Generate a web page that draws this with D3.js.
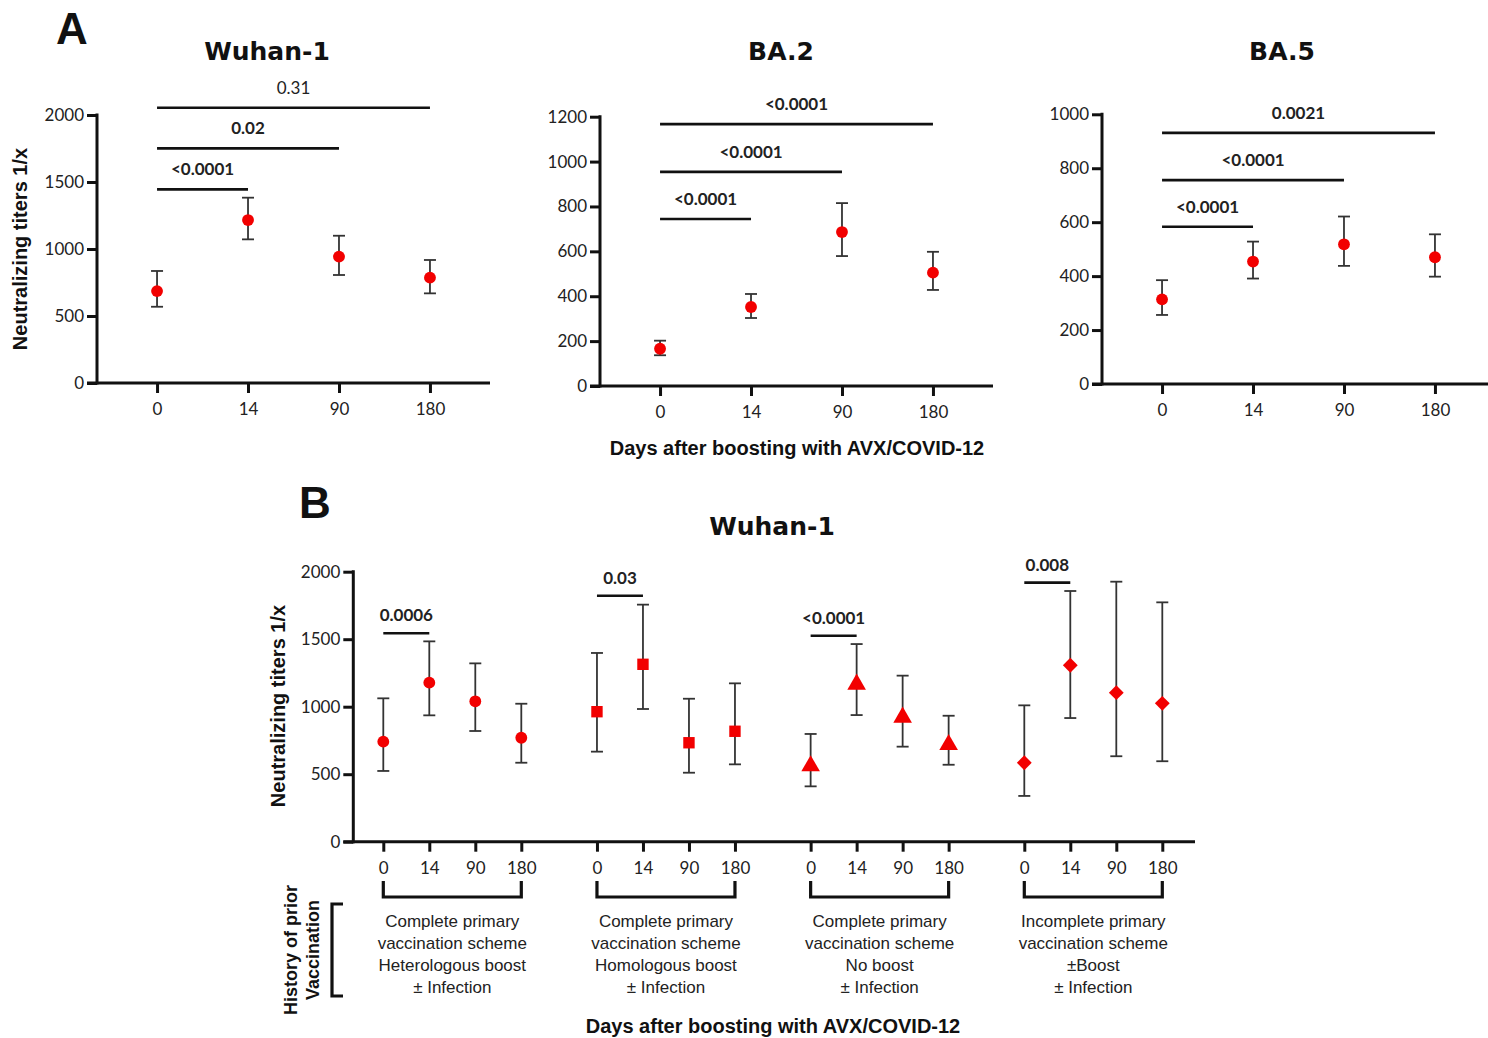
<!DOCTYPE html>
<html>
<head>
<meta charset="utf-8">
<script src="https://cdn.jsdelivr.net/npm/d3@7"></script>
<style>
  html, body { margin: 0; padding: 0; background: #fff; }
  svg { display: block; }
</style>
</head>
<body>
<svg id="chart" width="1488" height="1038"></svg>
<script>
// ---------------- DATA ----------------
const daysA = ["0", "14", "90", "180"];
const titlesA = ["Wuhan-1", "BA.2", "BA.5"];

const wuhanMean = [686, 1216, 943, 786];
const wuhanLow  = [569, 1072, 806, 669];
const wuhanHigh = [836, 1383, 1099, 918];
const wuhanTicks = [0, 500, 1000, 1500, 2000];
const wuhanPLabels = ["<0.0001", "0.02", "0.31"];
const wuhanPLevels = [1445, 1751, 2054];
const wuhanPBold = [true, true, false];

const ba2Mean = [166, 352, 686, 505];
const ba2Low  = [137, 303, 579, 428];
const ba2High = [202, 410, 815, 598];
const ba2Ticks = [0, 200, 400, 600, 800, 1000, 1200];
const ba2PLabels = ["<0.0001", "<0.0001", "<0.0001"];
const ba2PLevels = [744, 954, 1167];
const ba2PBold = [true, true, true];

const ba5Mean = [314, 454, 518, 470];
const ba5Low  = [256, 391, 438, 398];
const ba5High = [385, 528, 621, 555];
const ba5Ticks = [0, 200, 400, 600, 800, 1000];
const ba5PLabels = ["<0.0001", "<0.0001", "0.0021"];
const ba5PLevels = [583, 756, 931];
const ba5PBold = [true, true, true];

const pEnds = ["14", "90", "180"];   // brackets go from day 0 to these

// Panel B
const daysB = ["0", "14", "90", "180"];
const groupsB = [
  ["Complete primary", "vaccination scheme", "Heterologous boost", "\u00B1 Infection"],
  ["Complete primary", "vaccination scheme", "Homologous boost", "\u00B1 Infection"],
  ["Complete primary", "vaccination scheme", "No boost", "\u00B1 Infection"],
  ["Incomplete primary", "vaccination scheme", "\u00B1Boost", "\u00B1 Infection"]
];
const heteroMean = [741, 1178, 1040, 770];
const heteroLow  = [524, 936, 820, 585];
const heteroHigh = [1062, 1484, 1321, 1022];
const homoMean = [963, 1314, 733, 818];
const homoLow  = [667, 983, 511, 573];
const homoHigh = [1398, 1756, 1059, 1173];
const noBoostMean = [561, 1166, 921, 719];
const noBoostLow  = [410, 938, 704, 570];
const noBoostHigh = [798, 1464, 1230, 933];
const incompleteMean = [585, 1307, 1104, 1025];
const incompleteLow  = [339, 916, 633, 596];
const incompleteHigh = [1010, 1857, 1926, 1773];
const ticksB = [0, 500, 1000, 1500, 2000];
const pLabelsB = ["0.0006", "0.03", "<0.0001", "0.008"];
const pLevelsB = [1544, 1822, 1526, 1919];
const markersB = ["circle", "square", "triangle", "diamond"];

// ---------------- STYLE ----------------
const RED = "#f20000";
const INK = "#111";
const TICK_FONT = "Lato, 'Open Sans', sans-serif";
const BOLD_FONT = "'Liberation Sans', Arial, sans-serif";
const TITLE_FONT = "'DejaVu Sans', Verdana, sans-serif";

const svg = d3.select("#chart");

function styleAxis(g, fontSize) {
  g.selectAll(".tick line").attr("stroke", INK).attr("stroke-width", 3);
  g.selectAll(".tick text").attr("fill", "#222").attr("font-family", TICK_FONT)
    .attr("font-size", fontSize);
  g.select(".domain").remove();
}

function symbolPath(kind) {
  if (kind === "circle") return d3.symbol(d3.symbolCircle, 110)();
  if (kind === "square") return d3.symbol(d3.symbolSquare, 130)();
  if (kind === "triangle") return d3.symbol(d3.symbolTriangle, 150)();
  return d3.symbol(d3.symbolSquare, 110)(); // rotated later -> diamond
}

// ---------------- PANEL A ----------------
const panelsA = [
  { title: titlesA[0], mean: wuhanMean, low: wuhanLow, high: wuhanHigh, ticks: wuhanTicks,
    pl: wuhanPLabels, pv: wuhanPLevels, pb: wuhanPBold, x0: 97, x1: 490, y0: 383, y1: 115, titleX: 267 },
  { title: titlesA[1], mean: ba2Mean, low: ba2Low, high: ba2High, ticks: ba2Ticks,
    pl: ba2PLabels, pv: ba2PLevels, pb: ba2PBold, x0: 600, x1: 993, y0: 386, y1: 116.7, titleX: 781 },
  { title: titlesA[2], mean: ba5Mean, low: ba5Low, high: ba5High, ticks: ba5Ticks,
    pl: ba5PLabels, pv: ba5PLevels, pb: ba5PBold, x0: 1102, x1: 1495, y0: 384, y1: 114.3, titleX: 1282 }
];

panelsA.forEach((p, pi) => {
  const ticks = p.ticks;
  const y = d3.scaleLinear().domain([0, ticks[ticks.length - 1]]).range([p.y0, p.y1]);
  const x = d3.scalePoint().domain(daysA).range([p.x0, p.x1]).padding(0.66);
  const g = svg.append("g");

  g.append("text").attr("x", p.titleX).attr("y", 60).attr("text-anchor", "middle")
    .attr("font-family", TITLE_FONT).attr("font-weight", "bold").attr("font-size", 25)
    .attr("fill", INK).text(p.title);

  const ya = g.append("g").attr("transform", `translate(${p.x0},0)`)
    .call(d3.axisLeft(y).tickValues(ticks).tickSize(10).tickPadding(3).tickFormat(d3.format("d")));
  styleAxis(ya, 17);
  g.append("line").attr("x1", p.x0).attr("x2", p.x0).attr("y1", y(ticks[ticks.length - 1]) - 1.5)
    .attr("y2", p.y0 + 1.5).attr("stroke", INK).attr("stroke-width", 3);

  const xa = g.append("g").attr("transform", `translate(0,${p.y0})`)
    .call(d3.axisBottom(x).tickSize(10).tickPadding(10));
  styleAxis(xa, 17);
  g.append("line").attr("x1", p.x0 - 10).attr("x2", p.x1).attr("y1", p.y0).attr("y2", p.y0)
    .attr("stroke", INK).attr("stroke-width", 3);

  daysA.forEach((d, i) => {
    const cx = x(d);
    g.append("line").attr("x1", cx).attr("x2", cx).attr("y1", y(p.low[i])).attr("y2", y(p.high[i]))
      .attr("stroke", "#333").attr("stroke-width", 1.8);
    [p.low[i], p.high[i]].forEach(v => {
      g.append("line").attr("x1", cx - 6).attr("x2", cx + 6).attr("y1", y(v)).attr("y2", y(v))
        .attr("stroke", "#333").attr("stroke-width", 1.8);
    });
  });
  g.selectAll("path.pt").data(p.mean).join("path").attr("class", "pt")
    .attr("d", symbolPath("circle"))
    .attr("transform", (v, i) => `translate(${x(daysA[i])},${y(v)})`)
    .attr("fill", RED);

  p.pv.forEach((v, i) => {
    const xa0 = x(daysA[0]), xa1 = x(pEnds[i]);
    g.append("line").attr("x1", xa0).attr("x2", xa1).attr("y1", y(v)).attr("y2", y(v))
      .attr("stroke", INK).attr("stroke-width", 2.6);
    g.append("text").attr("x", (xa0 + xa1) / 2).attr("y", y(v) - 14)
      .attr("text-anchor", "middle").attr("font-family", TICK_FONT)
      .attr("font-weight", p.pb[i] ? "bold" : "normal").attr("font-size", 17)
      .attr("fill", "#222").text(p.pl[i]);
  });

  if (pi === 0) {
    g.append("text").attr("transform", `translate(27,249) rotate(-90)`)
      .attr("text-anchor", "middle").attr("font-family", BOLD_FONT).attr("font-weight", "bold")
      .attr("font-size", 20).attr("fill", INK).text("Neutralizing titers 1/x");
  }
});

svg.append("text").attr("x", 797).attr("y", 455).attr("text-anchor", "middle")
  .attr("font-family", BOLD_FONT).attr("font-weight", "bold").attr("font-size", 20)
  .attr("fill", INK).text("Days after boosting with AVX/COVID-12");

svg.append("text").attr("x", 72).attr("y", 44).attr("text-anchor", "middle")
  .attr("font-family", BOLD_FONT).attr("font-weight", "bold").attr("font-size", 44)
  .attr("fill", INK).text("A");

// ---------------- PANEL B ----------------
const seriesB = [
  { mean: heteroMean, low: heteroLow, high: heteroHigh },
  { mean: homoMean, low: homoLow, high: homoHigh },
  { mean: noBoostMean, low: noBoostLow, high: noBoostHigh },
  { mean: incompleteMean, low: incompleteLow, high: incompleteHigh }
];
const bX0 = 353.3, bX1 = 1195, bY0 = 841.7, bY1 = 571.7;
const yB = d3.scaleLinear().domain([0, ticksB[ticksB.length - 1]]).range([bY0, bY1]);
const gScale = d3.scalePoint().domain(d3.range(groupsB.length)).range([383.3, 1024.3]);
const dScale = d3.scalePoint().domain(daysB).range([0, 138]);
const xB = (gi, d) => gScale(gi) + dScale(d);

const gB = svg.append("g");
svg.append("text").attr("x", 315).attr("y", 518).attr("text-anchor", "middle")
  .attr("font-family", BOLD_FONT).attr("font-weight", "bold").attr("font-size", 44)
  .attr("fill", INK).text("B");
gB.append("text").attr("x", 772).attr("y", 535).attr("text-anchor", "middle")
  .attr("font-family", TITLE_FONT).attr("font-weight", "bold").attr("font-size", 25)
  .attr("fill", INK).text("Wuhan-1");

const yaB = gB.append("g").attr("transform", `translate(${bX0},0)`)
  .call(d3.axisLeft(yB).tickValues(ticksB).tickSize(10).tickPadding(3).tickFormat(d3.format("d")));
styleAxis(yaB, 17);
gB.append("line").attr("x1", bX0).attr("x2", bX0).attr("y1", bY1 - 1.5).attr("y2", bY0 + 1.5)
  .attr("stroke", INK).attr("stroke-width", 3);
gB.append("line").attr("x1", bX0 - 10).attr("x2", bX1).attr("y1", bY0).attr("y2", bY0)
  .attr("stroke", INK).attr("stroke-width", 3);

gB.append("text").attr("transform", `translate(285,706) rotate(-90)`)
  .attr("text-anchor", "middle").attr("font-family", BOLD_FONT).attr("font-weight", "bold")
  .attr("font-size", 20).attr("fill", INK).text("Neutralizing titers 1/x");

groupsB.forEach((lines, gi) => {
  const xa = gB.append("g").attr("transform", `translate(${gScale(gi)},${bY0})`)
    .call(d3.axisBottom(dScale).tickSize(10).tickPadding(10));
  styleAxis(xa, 17);

  const gx0 = xB(gi, daysB[0]), gx1 = xB(gi, daysB[daysB.length - 1]);
  gB.append("path").attr("d", `M${gx0},881V897H${gx1}V881`).attr("fill", "none")
    .attr("stroke", INK).attr("stroke-width", 3.2);

  const t = gB.append("text").attr("text-anchor", "middle").attr("font-family", BOLD_FONT)
    .attr("font-size", 17).attr("fill", "#222");
  lines.forEach((ln, li) => {
    t.append("tspan").attr("x", (gx0 + gx1) / 2).attr("y", 927 + li * 22).text(ln);
  });

  const s = seriesB[gi];
  daysB.forEach((d, i) => {
    const cx = xB(gi, d);
    gB.append("line").attr("x1", cx).attr("x2", cx).attr("y1", yB(s.low[i])).attr("y2", yB(s.high[i]))
      .attr("stroke", "#333").attr("stroke-width", 1.8);
    [s.low[i], s.high[i]].forEach(v => {
      gB.append("line").attr("x1", cx - 6).attr("x2", cx + 6).attr("y1", yB(v)).attr("y2", yB(v))
        .attr("stroke", "#333").attr("stroke-width", 1.8);
    });
  });
  gB.selectAll(`path.m${gi}`).data(s.mean).join("path").attr("class", `m${gi}`)
    .attr("d", symbolPath(markersB[gi]))
    .attr("transform", (v, i) => `translate(${xB(gi, daysB[i])},${yB(v)})` +
      (markersB[gi] === "diamond" ? " rotate(45)" : ""))
    .attr("fill", RED);

  const bx0 = xB(gi, daysB[0]), bx1 = xB(gi, daysB[1]);
  gB.append("line").attr("x1", bx0).attr("x2", bx1).attr("y1", yB(pLevelsB[gi])).attr("y2", yB(pLevelsB[gi]))
    .attr("stroke", INK).attr("stroke-width", 2.6);
  gB.append("text").attr("x", (bx0 + bx1) / 2).attr("y", yB(pLevelsB[gi]) - 12)
    .attr("text-anchor", "middle").attr("font-family", TICK_FONT).attr("font-weight", "bold")
    .attr("font-size", 17).attr("fill", "#222").text(pLabelsB[gi]);
});

const hv = gB.append("text").attr("transform", "translate(0,950) rotate(-90)")
  .attr("text-anchor", "middle").attr("font-family", BOLD_FONT).attr("font-weight", "bold")
  .attr("font-size", 18).attr("fill", INK);
hv.append("tspan").attr("x", 0).attr("y", 297).text("History of prior");
hv.append("tspan").attr("x", 0).attr("y", 319).text("Vaccination");
gB.append("path").attr("d", "M343,904H332V996H343").attr("fill", "none")
  .attr("stroke", INK).attr("stroke-width", 3.2);

gB.append("text").attr("x", 773).attr("y", 1033).attr("text-anchor", "middle")
  .attr("font-family", BOLD_FONT).attr("font-weight", "bold").attr("font-size", 20)
  .attr("fill", INK).text("Days after boosting with AVX/COVID-12");
</script>
</body>
</html>
